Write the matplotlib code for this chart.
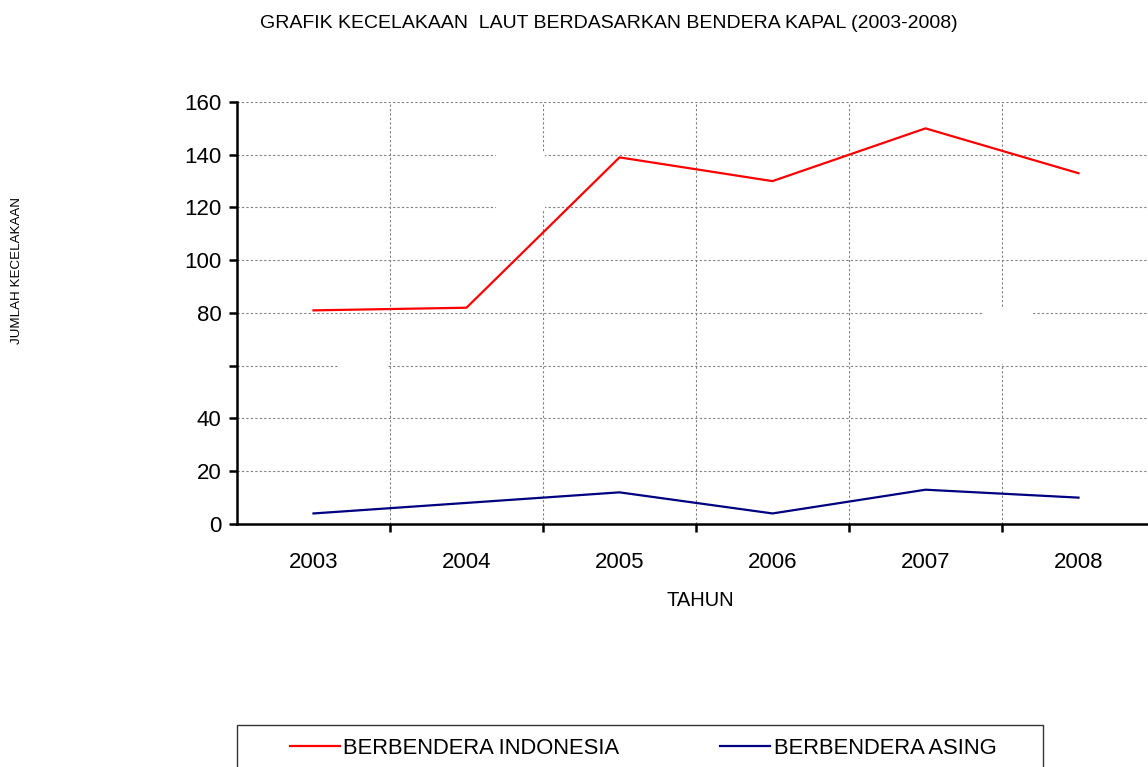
import matplotlib
matplotlib.use("Agg")
import matplotlib.pyplot as plt
from matplotlib.patches import Rectangle
from matplotlib.transforms import IdentityTransform

plt.rcParams['font.family'] = ['Liberation Sans', 'DejaVu Sans']

years = ['2003', '2004', '2005', '2006', '2007', '2008']
indonesia = [81, 82, 139, 130, 150, 133]
asing = [4, 8, 12, 4, 13, 10]
y_ticks = [0, 20, 40, 60, 80, 100, 120, 140, 160]
y_tick_labels = ['0', '20', '40', '', '80', '100', '120', '140', '160']

W, H = 1148, 767
fig = plt.figure(figsize=(W / 100, H / 100), dpi=100)

# plot area in pixels (Excel chart is clipped on the right)
px_l, px_r, px_t, px_b = 237, 1155, 102, 524
ax = fig.add_axes([px_l / W, (H - px_b) / H, (px_r - px_l) / W, (px_b - px_t) / H])

x = list(range(len(years)))
ax.plot(x, indonesia, color='#ff0000', lw=1.6, label='BERBENDERA INDONESIA', zorder=3)
ax.plot(x, asing, color='#000080', lw=1.6, label='BERBENDERA ASING', zorder=3)

ax.set_xlim(-0.5, len(years) - 0.5)
ax.set_ylim(0, 160)

# category boundaries get the tick marks and gridlines, labels sit in the middle
ax.set_xticks([i + 0.5 for i in range(len(years))])
ax.set_xticks(x, minor=True)
ax.set_xticklabels([], minor=False)
ax.set_xticklabels(years, minor=True)
ax.tick_params(axis='x', which='major', direction='out', length=6, width=1.8)
ax.tick_params(axis='x', which='minor', length=0, labelsize=16, pad=20)
ax.set_yticks(y_ticks)
ax.set_yticklabels(y_tick_labels)
ax.tick_params(axis='y', direction='out', length=6, width=1.8, labelsize=16, pad=5)

for s in ['top', 'right']:
    ax.spines[s].set_visible(False)
for s in ['left', 'bottom']:
    ax.spines[s].set_linewidth(1.8)

ax.grid(True, which='major', axis='both', color='#808080', lw=0.8,
        linestyle=(0, (2, 2)))
ax.set_axisbelow(True)

fig.text(609 / W, 1 - 23 / H, 'GRAFIK KECELAKAAN  LAUT BERDASARKAN BENDERA KAPAL (2003-2008)',
         ha='center', va='center', fontsize=14)
fig.text(17 / W, 1 - 271 / H, 'JUMLAH KECELAKAAN', rotation=90,
         ha='center', va='center', fontsize=9.6)
fig.text(700 / W, 1 - 601 / H, 'TAHUN', ha='center', va='center', fontsize=14.5)

# white blotches present in the original image
for (x0, y0, x1, y1) in [(496, 152, 545, 211), (339, 360, 388, 372), (982, 307, 1032, 364)]:
    fig.add_artist(Rectangle((x0, H - y1), x1 - x0, y1 - y0, facecolor='white',
                             edgecolor='none', transform=IdentityTransform(), zorder=2))

# legend box, clipped at the bottom like the source
fig.add_artist(Rectangle((237, -20), 1043 - 237, H - 725 + 20, facecolor='none',
                         edgecolor='#333333', lw=1, transform=IdentityTransform()))
handles, labels = ax.get_legend_handles_labels()
fig.legend(handles, labels, ncol=2, frameon=False, fontsize=15.8,
           loc='center left', bbox_to_anchor=(290 / W, 1 - 748 / H),
           borderpad=0, borderaxespad=0, handlelength=2.28, handletextpad=0.15,
           columnspacing=4.6)

fig.savefig('out.png', dpi=100)
